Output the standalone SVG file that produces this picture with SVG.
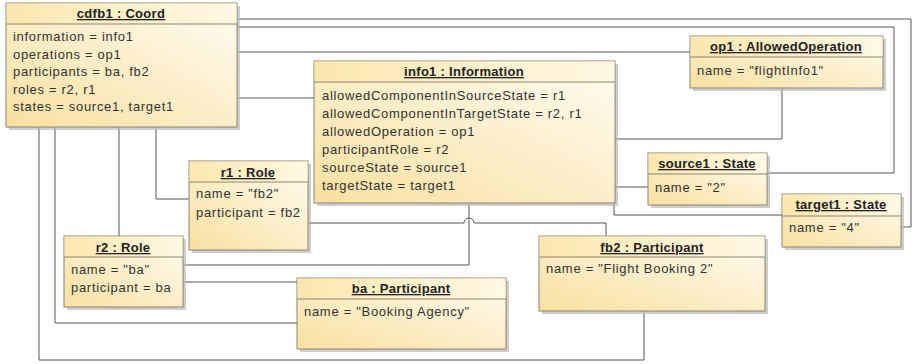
<svg xmlns="http://www.w3.org/2000/svg" width="922" height="364" viewBox="0 0 922 364">
<defs>
<linearGradient id="g" x1="0" y1="1" x2="1" y2="0">
<stop offset="0" stop-color="#F8E0A0"/>
<stop offset="1" stop-color="#FFFCF2"/>
</linearGradient>
<linearGradient id="gh" x1="0" y1="0" x2="1" y2="0">
<stop offset="0" stop-color="#FBE7AE"/>
<stop offset="1" stop-color="#FFF8E4"/>
</linearGradient>
</defs>
<style>
.sh{fill:#B9B9B9;opacity:0.7}
.bx{fill:url(#g);stroke:#8E8468;stroke-width:1}
.hd{fill:url(#gh);stroke:none}
.sep{stroke:#8E8468;stroke-width:1}
.t{font-family:"Liberation Sans",Arial,sans-serif;font-size:13px;font-weight:bold;text-decoration:underline;fill:#222;text-anchor:middle;letter-spacing:0.3px}
.a{font-family:"Liberation Sans",Arial,sans-serif;font-size:13px;fill:#333;letter-spacing:0.7px}
.c{fill:none;stroke:#555;stroke-width:1}
</style>
<g id="connectors">
<path class="c" d="M237,19 H911 V227 H901"/>
<path class="c" d="M237,27 H894 V173 H767"/>
<path class="c" d="M237,52 H690"/>
<path class="c" d="M237,98 H314"/>
<path class="c" d="M119,127 V236"/>
<path class="c" d="M156,127 V199 H189"/>
<path class="c" d="M55,127 V323 H297"/>
<path class="c" d="M39,127 V360 H644 V311"/>
<path class="c" d="M615,139 H782 V88"/>
<path class="c" d="M615,187 H648"/>
<path class="c" d="M614,203 V215 H782"/>
<path class="c" d="M469,203 V265 H183"/>
<path class="c" d="M308,223 H464 A5,5 0 0 1 474,223 H606 V236"/>
<path class="c" d="M183,282 H297"/>
</g>
<g id="cdfb1">
<rect class="sh" x="9" y="6" width="231" height="124"/>
<rect class="bx" x="6" y="3" width="231" height="124"/>
<rect class="hd" x="6.5" y="3.5" width="230" height="20.5"/>
<line class="sep" x1="6" y1="24" x2="237" y2="24"/>
<text class="t" x="121" y="18">cdfb1 : Coord</text>
<text class="a" x="13" y="41">information = info1</text>
<text class="a" x="13" y="58.5">operations = op1</text>
<text class="a" x="13" y="76">participants = ba, fb2</text>
<text class="a" x="13" y="93.5">roles = r2, r1</text>
<text class="a" x="13" y="111">states = source1, target1</text>
</g>
<g id="info1">
<rect class="sh" x="317" y="64" width="301" height="142"/>
<rect class="bx" x="314" y="61" width="301" height="142"/>
<rect class="hd" x="314.5" y="61.5" width="300" height="20.5"/>
<line class="sep" x1="314" y1="82" x2="615" y2="82"/>
<text class="t" x="464" y="76">info1 : Information</text>
<text class="a" x="322" y="100">allowedComponentInSourceState = r1</text>
<text class="a" x="322" y="118">allowedComponentInTargetState = r2, r1</text>
<text class="a" x="322" y="136">allowedOperation = op1</text>
<text class="a" x="322" y="154">participantRole = r2</text>
<text class="a" x="322" y="172">sourceState = source1</text>
<text class="a" x="322" y="190">targetState = target1</text>
</g>
<g id="op1">
<rect class="sh" x="693" y="39" width="193" height="52"/>
<rect class="bx" x="690" y="36" width="193" height="52"/>
<rect class="hd" x="690.5" y="36.5" width="192" height="20.5"/>
<line class="sep" x1="690" y1="57" x2="883" y2="57"/>
<text class="t" x="786" y="51">op1 : AllowedOperation</text>
<text class="a" x="697" y="75">name = "flightInfo1"</text>
</g>
<g id="source1">
<rect class="sh" x="651" y="156" width="119" height="52"/>
<rect class="bx" x="648" y="153" width="119" height="52"/>
<rect class="hd" x="648.5" y="153.5" width="118" height="20.5"/>
<line class="sep" x1="648" y1="174" x2="767" y2="174"/>
<text class="t" x="707" y="168">source1 : State</text>
<text class="a" x="655" y="192">name = "2"</text>
</g>
<g id="target1">
<rect class="sh" x="785" y="197" width="119" height="53"/>
<rect class="bx" x="782" y="194" width="119" height="53"/>
<rect class="hd" x="782.5" y="194.5" width="118" height="21"/>
<line class="sep" x1="782" y1="216" x2="901" y2="216"/>
<text class="t" x="841" y="209">target1 : State</text>
<text class="a" x="789" y="232">name = "4"</text>
</g>
<g id="fb2">
<rect class="sh" x="542" y="239" width="226" height="75"/>
<rect class="bx" x="539" y="236" width="226" height="75"/>
<rect class="hd" x="539.5" y="236.5" width="225" height="20.5"/>
<line class="sep" x1="539" y1="257" x2="765" y2="257"/>
<text class="t" x="652" y="252">fb2 : Participant</text>
<text class="a" x="546" y="273">name = "Flight Booking 2"</text>
</g>
<g id="ba">
<rect class="sh" x="300" y="281" width="209" height="71"/>
<rect class="bx" x="297" y="278" width="209" height="71"/>
<rect class="hd" x="297.5" y="278.5" width="208" height="20.5"/>
<line class="sep" x1="297" y1="299" x2="506" y2="299"/>
<text class="t" x="401" y="293">ba : Participant</text>
<text class="a" x="304" y="316">name = "Booking Agency"</text>
</g>
<g id="r2">
<rect class="sh" x="67" y="239" width="119" height="71"/>
<rect class="bx" x="64" y="236" width="119" height="71"/>
<rect class="hd" x="64.5" y="236.5" width="118" height="20.5"/>
<line class="sep" x1="64" y1="257" x2="183" y2="257"/>
<text class="t" x="123" y="252">r2 : Role</text>
<text class="a" x="71" y="274">name = "ba"</text>
<text class="a" x="71" y="292">participant = ba</text>
</g>
<g id="r1">
<rect class="sh" x="192" y="164" width="119" height="89"/>
<rect class="bx" x="189" y="161" width="119" height="89"/>
<rect class="hd" x="189.5" y="161.5" width="118" height="20.5"/>
<line class="sep" x1="189" y1="182" x2="308" y2="182"/>
<text class="t" x="248" y="177">r1 : Role</text>
<text class="a" x="196" y="198">name = "fb2"</text>
<text class="a" x="196" y="217">participant = fb2</text>
</g>
</svg>
